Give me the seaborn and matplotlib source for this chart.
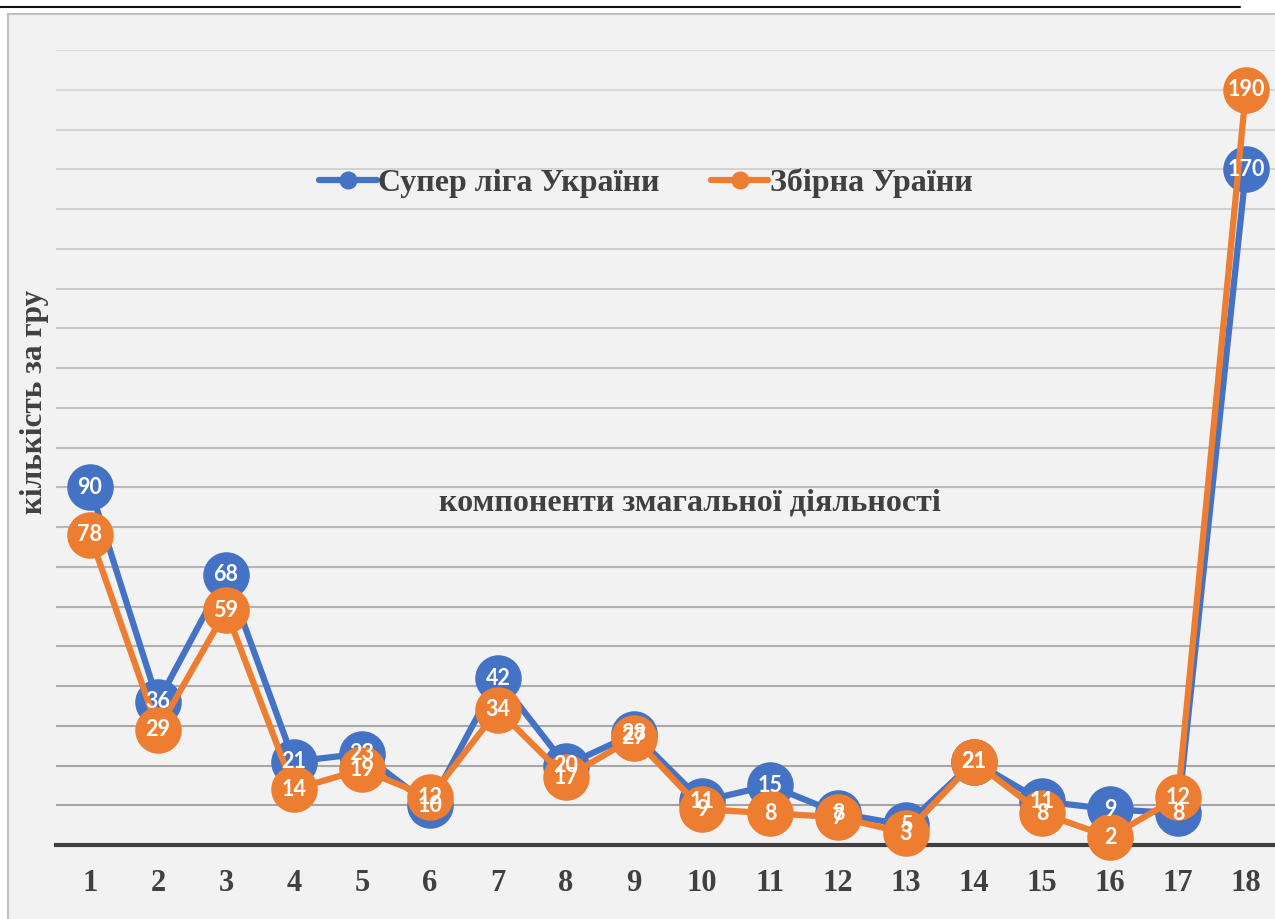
import numpy as np
import pandas as pd
import matplotlib
matplotlib.use('Agg')
import matplotlib.pyplot as plt
import seaborn as sns
from matplotlib.lines import Line2D
from matplotlib.patches import Rectangle

# ---------- dados ----------
componentes = list(range(1, 19))
super_liga  = [90, 36, 68, 21, 23, 10, 42, 20, 28, 11, 15, 8, 5, 21, 11, 9, 8, 170]
zbirna      = [78, 29, 59, 14, 19, 12, 34, 17, 27, 9, 8, 7, 3, 21, 8, 2, 12, 190]
nomes       = ['Супер ліга України', 'Збірна Ураїни']
cores       = ['#4472C4', '#ED7D31']

sns.set_theme(style='white')
plt.rcParams['font.family'] = ['Liberation Serif', 'DejaVu Serif']

fig = plt.figure(figsize=(12.75, 9.19), dpi=100)
fig.patch.set_facecolor('white')

# moldura e linha superior
W, H = 1275, 919
fig.add_artist(Rectangle((8 / W, -0.05), 1.1, 1 - 14 / H + 0.05, transform=fig.transFigure,
                         facecolor='#f2f2f2', edgecolor='#c0c0c0', linewidth=1.5, zorder=0))
fig.add_artist(Line2D([0, 1240 / W], [1 - 7 / H, 1 - 7 / H], transform=fig.transFigure,
                      color='#111111', linewidth=1.5))

ax = fig.add_axes([56 / W, 74 / H, (1280 - 56) / W, (869 - 74) / H])
ax.set_facecolor('none')

df = pd.DataFrame({'x': componentes * 2,
                   'valor': super_liga + zbirna,
                   'serie': [nomes[0]] * 18 + [nomes[1]] * 18})

for nome, cor in zip(nomes, cores):
    sub = df[df['serie'] == nome]
    sns.lineplot(data=sub, x='x', y='valor', ax=ax, color=cor, linewidth=4.5,
                 marker='o', markersize=33.5, markeredgewidth=0, legend=False,
                 clip_on=False, zorder=3)

# rótulos de dados
for nome, vals in zip(nomes, [super_liga, zbirna]):
    for x, v in zip(componentes, vals):
        ax.text(x, v, str(v), ha='center', va='center', color='white',
                fontsize=15.5, fontweight='bold', family=['Lato', 'DejaVu Sans'], zorder=5)

ax.set_xlim(0.5, 18.5)
ax.set_ylim(0, 200)
ax.set_yticks(np.arange(0, 201, 10))
ax.set_yticklabels([])
ax.set_xticks(componentes)
ax.set_xticklabels([str(c) for c in componentes], fontsize=22, fontweight='bold', color='#404040')
ax.tick_params(axis='x', length=0, pad=17)
ax.tick_params(axis='y', length=0)
ax.set_xlabel('')
ax.set_ylabel('')
for s in ['top', 'right', 'left']:
    ax.spines[s].set_visible(False)
ax.spines['bottom'].set_color('#404040')
ax.spines['bottom'].set_linewidth(3)
ax.spines['bottom'].set_zorder(2)

# grade com gradiente de cinza
ax.yaxis.grid(True, linewidth=1.5)
ax.set_axisbelow(True)
gl = ax.get_ygridlines()
for i, g in enumerate(gl):
    t = i / (len(gl) - 1)
    c = 0.63 + (0.86 - 0.63) * t
    g.set_color((c, c, c))

# textos
fig.text(35 / W, 1 - 402 / H, 'кількість за гру', rotation=90, ha='center', va='center',
         fontsize=22.5, fontweight='bold', color='#404040')
fig.text(690 / W, 1 - 503 / H, 'компоненти змагальної діяльності', ha='center', va='center',
         fontsize=23, fontweight='bold', color='#404040')

handles = [Line2D([0], [0], color=c, linewidth=4.5, marker='o', markersize=12) for c in cores]
leg = fig.legend(handles, nomes, loc='center', bbox_to_anchor=(646 / W, 1 - 183 / H), ncol=2,
                 frameon=False, handlelength=1.8, handletextpad=0.05, columnspacing=1.6,
                 prop={'size': 23, 'weight': 'bold'})
for t in leg.get_texts():
    t.set_color('#404040')

fig.savefig('out.png', dpi=100)
